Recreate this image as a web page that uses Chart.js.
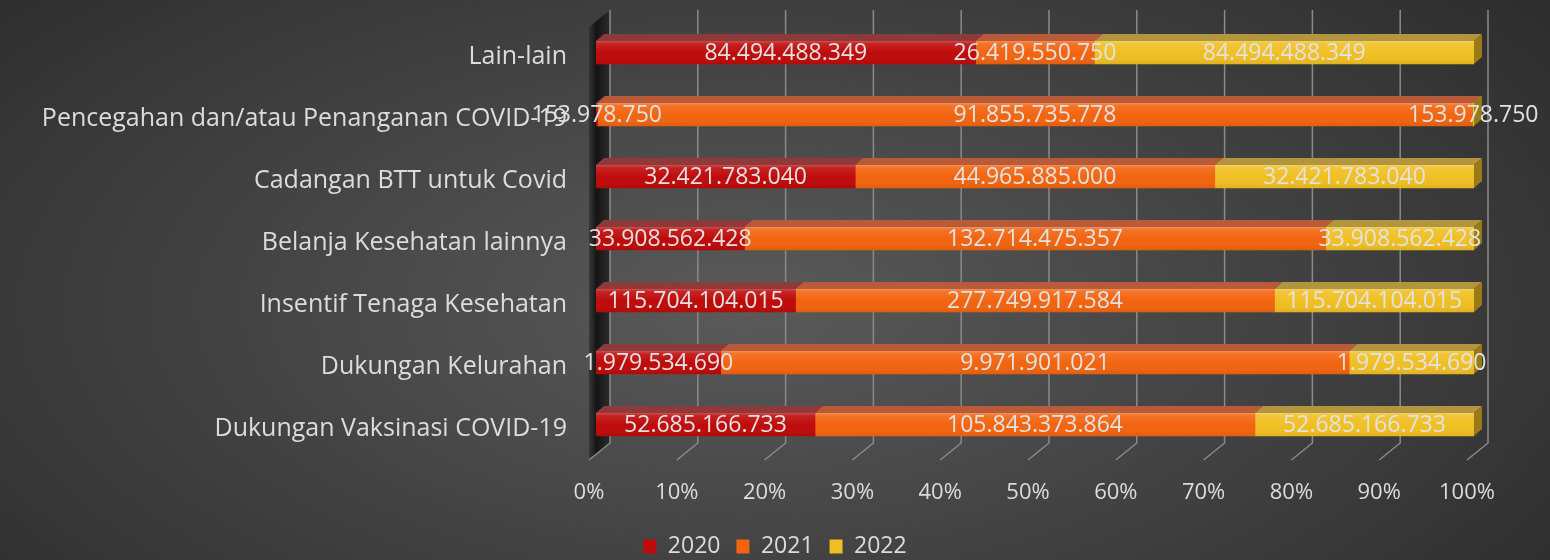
<!DOCTYPE html>
<html>
<head>
<meta charset="utf-8">
<title>Belanja COVID-19 2020-2022</title>
<script src="https://cdn.jsdelivr.net/npm/chart.js@4.4.1/dist/chart.umd.min.js"></script>
<style>
  html, body { margin: 0; padding: 0; }
  body {
    width: 1550px; height: 560px; overflow: hidden;
    background: radial-gradient(ellipse 70% 95% at 48% 55%, #5a5a5a 0%, #444 45%, #2a2a2a 100%);
  }
  canvas { display: block; }
</style>
</head>
<body>
<canvas id="chart" width="1550" height="560"></canvas>
<script>
(function () {
  "use strict";

  /* ---- data ---- */
  var categories = [
    "Lain-lain",
    "Pencegahan dan/atau Penanganan COVID-19",
    "Cadangan BTT untuk Covid",
    "Belanja Kesehatan lainnya",
    "Insentif Tenaga Kesehatan",
    "Dukungan Kelurahan",
    "Dukungan Vaksinasi COVID-19"
  ];
  var years = ["2020", "2021", "2022"];
  var values2020 = [84494488349, 153978750, 32421783040, 33908562428, 115704104015, 1979534690, 52685166733];
  var values2021 = [26419550750, 91855735778, 44965885000, 132714475357, 277749917584, 9971901021, 105843373864];
  var values2022 = [84494488349, 153978750, 32421783040, 33908562428, 115704104015, 1979534690, 52685166733];
  var percentTicks = [0, 10, 20, 30, 40, 50, 60, 70, 80, 90, 100];

  /* ---- look ---- */
  var FONT = "'Open Sans', 'DejaVu Sans', sans-serif";
  var TEXT = "#dcdcdc";
  var FRONT = ["#bf0a0a", "#f2640f", "#f0bf22"];   // front faces
  var TOP = ["#8f3a3a", "#b95a38", "#b3953f"];     // top faces
  var SIDE = "#9a7a16";                            // right end of last segment
  var GRID = "#8a8a8a";
  var DX = 8, DY = -7;          // 3D depth of a bar
  var BACK = 14, FLOOR = -7;    // back wall / front floor shift vs. the bar plane

  var raw = [values2020, values2021, values2022];
  var totals = categories.map(function (c, j) {
    return values2020[j] + values2021[j] + values2022[j];
  });
  function pct(arr) {
    return arr.map(function (v, j) { return v / totals[j] * 100; });
  }
  function fmt(v) {
    return String(v).replace(/\B(?=(\d{3})+(?!\d))/g, ".");
  }

  /* ---- 3D wall + grid, drawn behind the bars ---- */
  var wallPlugin = {
    id: "wall3d",
    beforeDatasetsDraw: function (chart) {
      var ctx = chart.ctx, xs = chart.scales.x, area = chart.chartArea;
      var top = 10, backBottom = area.bottom - 12.5, floorBottom = area.bottom + 4.5;
      var x0 = xs.getPixelForValue(0);
      ctx.save();
      // left side wall
      var g = ctx.createLinearGradient(x0 + FLOOR, 0, x0 + BACK, 0);
      g.addColorStop(0, "rgba(40,40,40,0.6)");
      g.addColorStop(0.35, "#141414");
      g.addColorStop(1, "#2c2c2c");
      ctx.fillStyle = g;
      ctx.beginPath();
      ctx.moveTo(x0 + FLOOR, top + 17);
      ctx.lineTo(x0 + BACK, top);
      ctx.lineTo(x0 + BACK, backBottom);
      ctx.lineTo(x0 + FLOOR, floorBottom);
      ctx.closePath();
      ctx.fill();
      // back-wall grid lines and floor diagonals
      ctx.strokeStyle = GRID;
      ctx.lineWidth = 1.5;
      percentTicks.forEach(function (t) {
        var p = xs.getPixelForValue(t);
        ctx.beginPath();
        ctx.moveTo(p + BACK, top);
        ctx.lineTo(p + BACK, backBottom);
        ctx.lineTo(p + FLOOR, floorBottom);
        ctx.stroke();
      });
      ctx.restore();
    },
    /* ---- top / side faces, shading and value labels ---- */
    afterDatasetsDraw: function (chart) {
      var ctx = chart.ctx;
      var n = chart.data.datasets.length;
      ctx.save();
      for (var i = 0; i < n; i++) {
        chart.getDatasetMeta(i).data.forEach(function (bar) {
          var p = bar.getProps(["x", "y", "base", "height"], true);
          var l = Math.min(p.x, p.base), r = Math.max(p.x, p.base);
          var t = p.y - p.height / 2, b = p.y + p.height / 2;
          // front shading
          var g = ctx.createLinearGradient(0, t, 0, b);
          g.addColorStop(0, "rgba(255,255,255,0.28)");
          g.addColorStop(0.12, "rgba(255,255,255,0.10)");
          g.addColorStop(0.55, "rgba(255,255,255,0)");
          g.addColorStop(1, "rgba(0,0,0,0.07)");
          ctx.fillStyle = g;
          ctx.fillRect(l, t, r - l, b - t);
          // top face
          ctx.fillStyle = TOP[i];
          ctx.beginPath();
          ctx.moveTo(l, t);
          ctx.lineTo(r, t);
          ctx.lineTo(r + DX, t + DY);
          ctx.lineTo(l + DX, t + DY);
          ctx.closePath();
          ctx.fill();
          // right side face of the last segment
          if (i === n - 1) {
            ctx.fillStyle = SIDE;
            ctx.beginPath();
            ctx.moveTo(r, t);
            ctx.lineTo(r + DX, t + DY);
            ctx.lineTo(r + DX, b + DY);
            ctx.lineTo(r, b);
            ctx.closePath();
            ctx.fill();
          }
        });
      }
      ctx.fillStyle = "#e2e2e2";
      ctx.font = "23px " + FONT;
      ctx.textAlign = "center";
      ctx.textBaseline = "middle";
      for (var k = 0; k < n; k++) {
        chart.getDatasetMeta(k).data.forEach(function (bar, j) {
          var p = bar.getProps(["x", "y", "base"], true);
          ctx.fillText(fmt(raw[k][j]), (p.x + p.base) / 2, p.y + 1);
        });
      }
      ctx.restore();
    }
  };

  var datasets = years.map(function (y, i) {
    return {
      label: y,
      data: pct(raw[i]),
      backgroundColor: FRONT[i],
      borderWidth: 0,
      barThickness: 23
    };
  });

  new Chart(document.getElementById("chart").getContext("2d"), {
    type: "bar",
    data: { labels: categories, datasets: datasets },
    plugins: [wallPlugin],
    options: {
      indexAxis: "y",
      responsive: false,
      animation: false,
      layout: { autoPadding: false, padding: { top: 21.5, right: 0, bottom: -8, left: 0 } },
      plugins: {
        tooltip: { enabled: false },
        legend: {
          position: "bottom",
          labels: {
            color: TEXT,
            font: { family: FONT, size: 23 },
            boxWidth: 13,
            boxHeight: 14,
            padding: 16
          }
        }
      },
      scales: {
        x: {
          stacked: true,
          min: 0,
          max: 100,
          grid: { display: false, drawTicks: false },
          border: { display: false },
          afterFit: function (s) { s.height = 63.5; },
          ticks: {
            stepSize: 10,
            color: TEXT,
            font: { family: FONT, size: 22 },
            labelOffset: FLOOR,
            padding: 24,
            callback: function (v) { return v + "%"; }
          }
        },
        y: {
          stacked: true,
          grid: { display: false, drawTicks: false },
          border: { display: false },
          afterFit: function (s) {
            s.width = 596;
            s.paddingTop = 0;      // let layout.padding decide the plot top
            s.paddingBottom = 0;
          },
          ticks: {
            color: TEXT,
            font: { family: FONT, size: 25 },
            padding: 29,
            labelOffset: 4
          }
        },
        // empty strip on the right, keeps the plot clear of the canvas edge
        yRight: {
          type: "category",
          position: "right",
          grid: { display: false, drawTicks: false },
          border: { display: false },
          ticks: { display: false },
          afterFit: function (s) { s.width = 76; s.paddingTop = 0; s.paddingBottom = 0; }
        }
      }
    }
  });
})();
</script>
</body>
</html>
